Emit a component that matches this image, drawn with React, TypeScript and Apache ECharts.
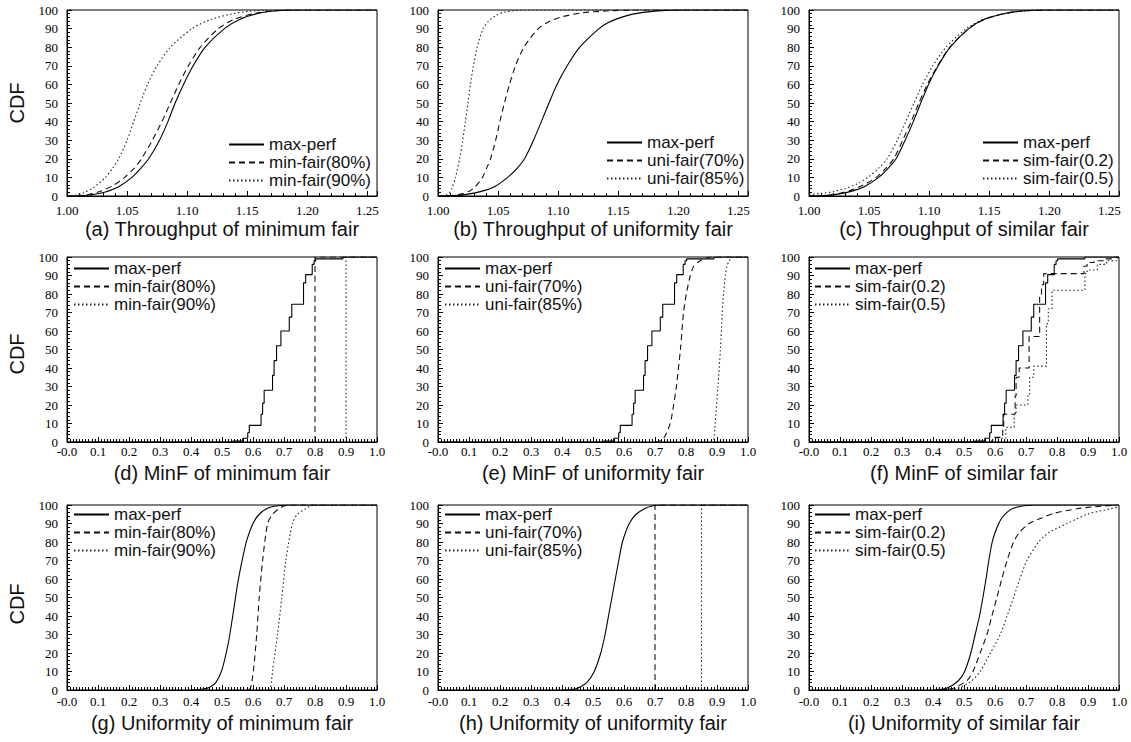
import React, { useEffect, useRef } from "react";
import * as echarts from "echarts";

// ---------- Data ----------
// Row 1: throughput CDFs
const TP_A_MAX = [[1.0,0],[1.012,0.1],[1.022,0.8],[1.032,2.2],[1.043,5],[1.054,10],[1.0615,15],[1.068,20],[1.077,30],[1.084,40],[1.09,50],[1.097,60],[1.105,70],[1.115,80],[1.131,90],[1.144,95],[1.158,98],[1.17,99.3],[1.19,100],[1.258,100]];
const TP_A_MIN80 = [[1.0,0],[1.008,0.1],[1.018,0.8],[1.028,2.5],[1.038,5.5],[1.048,10],[1.056,15],[1.062,20],[1.071,30],[1.079,40],[1.086,50],[1.093,60],[1.101,70],[1.111,80],[1.126,90],[1.139,95],[1.155,98],[1.168,99.3],[1.185,100],[1.258,100]];
const TP_A_MIN90 = [[1.0,0],[1.006,0.3],[1.014,1.8],[1.022,4.5],[1.032,10],[1.038,15],[1.043,20],[1.05,30],[1.0555,40],[1.061,50],[1.067,60],[1.075,70],[1.086,80],[1.104,90],[1.12,95],[1.138,98],[1.152,99.3],[1.17,100],[1.258,100]];

const TP_B_MAX = [[1.0,0],[1.014,0.2],[1.025,1],[1.036,2.5],[1.047,5],[1.058,10],[1.066,15],[1.072,20],[1.0795,30],[1.086,40],[1.0924,50],[1.099,60],[1.1075,70],[1.118,80],[1.134,90],[1.141,93],[1.15,95.5],[1.162,97.8],[1.175,99],[1.19,99.8],[1.205,100],[1.258,100]];
const TP_B_UNI70 = [[1.0,0],[1.01,0.2],[1.019,1],[1.026,2.5],[1.031,5],[1.037,10],[1.0405,15],[1.0437,20],[1.048,30],[1.0515,40],[1.0553,50],[1.0595,60],[1.0645,70],[1.0715,80],[1.0835,90],[1.093,94],[1.104,96.5],[1.12,98.5],[1.14,99.5],[1.165,100],[1.258,100]];
const TP_B_UNI85 = [[1.0,0],[1.006,0.3],[1.009,1.5],[1.0115,4],[1.0145,10],[1.018,20],[1.0206,30],[1.0228,40],[1.025,50],[1.027,60],[1.0295,70],[1.0326,80],[1.0375,90],[1.042,94],[1.048,97],[1.055,98.8],[1.063,99.6],[1.072,100],[1.258,100]];

const TP_C_MAX = [[1.0,0],[1.013,0.2],[1.024,1],[1.035,2.5],[1.046,5],[1.058,10],[1.066,15],[1.0725,20],[1.08,30],[1.0868,40],[1.093,50],[1.0995,60],[1.1075,70],[1.1175,80],[1.133,90],[1.146,95],[1.162,98],[1.175,99.3],[1.195,100],[1.258,100]];
const TP_C_SIM02 = [[1.0,0],[1.011,0.2],[1.022,1],[1.033,2.7],[1.044,5.5],[1.056,10],[1.064,15],[1.0705,20],[1.078,30],[1.085,40],[1.0915,50],[1.0985,60],[1.107,70],[1.1172,80],[1.133,90],[1.146,95],[1.162,98],[1.175,99.3],[1.195,100],[1.258,100]];
const TP_C_SIM05 = [[1.0,1],[1.01,1.4],[1.02,2.3],[1.03,4],[1.04,6.5],[1.05,10.5],[1.058,15],[1.065,20],[1.0735,30],[1.0805,40],[1.0874,50],[1.0945,60],[1.103,70],[1.114,80],[1.131,90],[1.145,95],[1.162,98],[1.175,99.3],[1.198,100],[1.258,100]];

// Row 2: MinF CDFs (step functions)
const MINF_MAX = [[0,0],[0.535,0.5],[0.567,2],[0.583,5],[0.588,9],[0.626,15],[0.631,21],[0.636,28],[0.663,36],[0.668,44],[0.676,52],[0.69,60],[0.717,67.5],[0.725,74.5],[0.763,86],[0.77,90.5],[0.791,96],[0.797,98],[0.802,99],[0.89,100],[1.0,100]];
const MINF_D_MIN80 = [[0.8,0],[0.8,100],[1.0,100]];
const MINF_D_MIN90 = [[0.9,0],[0.9,100],[1.0,100]];
const MINF_E_UNI70 = [[0.7,0],[0.712,0.3],[0.728,2],[0.749,10],[0.76,20],[0.769,30],[0.782,50],[0.792,70],[0.801,80],[0.814,90],[0.825,95],[0.846,98],[0.865,99.5],[0.88,100],[1.0,100]];
const MINF_E_UNI85 = [[0.88,0],[0.889,1],[0.894,10],[0.903,30],[0.911,50],[0.917,70],[0.921,80],[0.927,90],[0.932,95],[0.94,98],[0.948,99.5],[0.959,100],[1.0,100]];
const MINF_F_SIM02 = [[0,0],[0.59,1],[0.597,2.5],[0.625,8],[0.628,15],[0.665,25],[0.668,35],[0.678,40],[0.71,57],[0.744,79],[0.75,85],[0.757,91],[0.887,95],[0.897,97],[0.92,98],[0.95,99],[0.985,100],[1.0,100]];
const MINF_F_SIM05 = [[0,0],[0.61,2],[0.635,8],[0.662,15],[0.668,20],[0.706,26],[0.712,35],[0.725,41],[0.766,64],[0.772,72],[0.784,82],[0.89,91],[0.897,93],[0.93,96],[0.96,98],[0.995,100],[1.0,100]];

// Row 3: uniformity CDFs
const UNIF_G_MAX = [[0.4,0],[0.44,0.5],[0.46,1.5],[0.48,4],[0.5,11],[0.52,25],[0.53,35],[0.54,46],[0.55,57],[0.56,66],[0.57,74],[0.58,81],[0.6,90],[0.62,95],[0.65,98.5],[0.68,99.6],[0.72,100],[1.0,100]];
const UNIF_G_MIN80 = [[0.585,0],[0.592,1],[0.601,10],[0.612,30],[0.62,50],[0.631,70],[0.647,90],[0.663,95],[0.684,98],[0.7,99.5],[0.717,100],[1.0,100]];
const UNIF_G_MIN90 = [[0.65,0],[0.656,1],[0.663,10],[0.679,30],[0.693,50],[0.706,70],[0.727,90],[0.743,95],[0.77,98],[0.785,99.5],[0.802,100],[1.0,100]];
const UNIF_H_MAX = [[0.4,0],[0.43,0.3],[0.45,1],[0.48,4],[0.504,10],[0.525,20],[0.539,30],[0.55,40],[0.561,50],[0.572,60],[0.583,70],[0.595,80],[0.617,90],[0.639,95],[0.666,98],[0.69,99.5],[0.72,100],[1.0,100]];
const UNIF_H_UNI70 = [[0.7,0],[0.7,100],[1.0,100]];
const UNIF_H_UNI85 = [[0.85,0],[0.85,100],[1.0,100]];
const UNIF_I_MAX = [[0.4,0],[0.444,1],[0.482,5],[0.502,10],[0.522,20],[0.536,30],[0.55,40],[0.561,50],[0.571,60],[0.58,70],[0.591,80],[0.6,85],[0.612,90],[0.622,93],[0.635,95.5],[0.65,97.5],[0.67,98.8],[0.7,99.7],[0.73,100],[1.0,100]];
const UNIF_I_SIM02 = [[0.42,0],[0.466,1],[0.509,5],[0.529,10],[0.552,20],[0.574,30],[0.59,40],[0.606,50],[0.622,60],[0.639,70],[0.66,80],[0.678,85],[0.71,90],[0.75,93],[0.79,95.5],[0.865,98],[0.919,99],[0.995,100]];
const UNIF_I_SIM05 = [[0.43,0],[0.482,1],[0.525,5],[0.552,10],[0.585,20],[0.617,30],[0.639,40],[0.66,50],[0.68,60],[0.703,70],[0.741,80],[0.773,85],[0.833,90],[0.897,95],[0.973,98],[1.0,99]];

const TITLES = [
  "(a) Throughput of minimum fair", "(b) Throughput of uniformity fair", "(c) Throughput of similar fair",
  "(d) MinF of minimum fair", "(e) MinF of uniformity fair", "(f) MinF of similar fair",
  "(g) Uniformity of minimum fair", "(h) Uniformity of uniformity fair", "(i) Uniformity of similar fair",
];
const NAMES_MIN = ["max-perf", "min-fair(80%)", "min-fair(90%)"];
const NAMES_UNI = ["max-perf", "uni-fair(70%)", "uni-fair(85%)"];
const NAMES_SIM = ["max-perf", "sim-fair(0.2)", "sim-fair(0.5)"];

// ---------- Styles / layout ----------
const SERIF = '"Liberation Serif", "Times New Roman", serif';
const SANS = '"Liberation Sans", Arial, Helvetica, sans-serif';
const STYLE = [
  { color: "#000", width: 1.1, type: "solid" },
  { color: "#111", width: 1.1, type: [6, 4] },
  { color: "#222", width: 1.1, type: [1.5, 2.5] },
];
const COL_LEFT = [67, 438, 809];
const ROW_TOP = [10, 257, 505];
const ROW_H = [186, 185, 185];
const GRID_W = 310;
const TITLE_TOP = [219, 463, 713];
const LABEL_MARGIN = [8, 3, 5];
const CDF_Y = [103, 354, 604];
const LEGEND_POS = [
  { left: 228, top: 136 }, { left: 606, top: 134 }, { left: 982, top: 134 },
  { left: 73, top: 260 }, { left: 444, top: 260 }, { left: 814, top: 260 },
  { left: 73, top: 506 }, { left: 444, top: 506 }, { left: 814, top: 506 },
];

type Panel = { names: string[]; data: number[][][]; step?: boolean[] };
const PANELS: Panel[] = [
  { names: NAMES_MIN, data: [TP_A_MAX, TP_A_MIN80, TP_A_MIN90] },
  { names: NAMES_UNI, data: [TP_B_MAX, TP_B_UNI70, TP_B_UNI85] },
  { names: NAMES_SIM, data: [TP_C_MAX, TP_C_SIM02, TP_C_SIM05] },
  { names: NAMES_MIN, data: [MINF_MAX, MINF_D_MIN80, MINF_D_MIN90], step: [true, false, false] },
  { names: NAMES_UNI, data: [MINF_MAX, MINF_E_UNI70, MINF_E_UNI85], step: [true, false, false] },
  { names: NAMES_SIM, data: [MINF_MAX, MINF_F_SIM02, MINF_F_SIM05], step: [true, true, true] },
  { names: NAMES_MIN, data: [UNIF_G_MAX, UNIF_G_MIN80, UNIF_G_MIN90] },
  { names: NAMES_UNI, data: [UNIF_H_MAX, UNIF_H_UNI70, UNIF_H_UNI85] },
  { names: NAMES_SIM, data: [UNIF_I_MAX, UNIF_I_SIM02, UNIF_I_SIM05] },
];

function buildOption() {
  const grid: any[] = [];
  const xAxis: any[] = [];
  const yAxis: any[] = [];
  const series: any[] = [];
  const legend: any[] = [];
  const title: any[] = [];
  PANELS.forEach((p, i) => {
    const row = Math.floor(i / 3);
    const col = i % 3;
    const left = COL_LEFT[col];
    grid.push({
      left, top: ROW_TOP[row], width: GRID_W, height: ROW_H[row],
      show: true, borderColor: "#000", borderWidth: 1, backgroundColor: "transparent",
    });
    const isTp = row === 0;
    xAxis.push({
      type: "value", gridIndex: i,
      min: isTp ? 1.0 : 0, max: isTp ? 1.258 : 1.0, interval: isTp ? 0.05 : 0.1,
      axisLine: { show: true, onZero: false, lineStyle: { color: "#000", width: 1 } },
      axisTick: { show: true, inside: true, length: 5, lineStyle: { color: "#000", width: 1 } },
      minorTick: { show: true, splitNumber: isTp ? 5 : 10, length: 3, lineStyle: { color: "#000", width: 1 } },
      splitLine: { show: false },
      axisLabel: {
        fontFamily: SERIF, fontSize: 13, color: "#000", margin: LABEL_MARGIN[row],
        showMaxLabel: isTp ? false : true,
        formatter: (v: number) => (isTp ? v.toFixed(2) : Math.abs(v) < 1e-9 ? "-0.0" : v.toFixed(1)),
      },
    });
    yAxis.push({
      type: "value", gridIndex: i, min: 0, max: 100, interval: 10,
      axisLine: { show: true, onZero: false, lineStyle: { color: "#000", width: 1 } },
      axisTick: { show: true, inside: true, length: 5, lineStyle: { color: "#000", width: 1 } },
      minorTick: { show: true, splitNumber: 5, length: 3, lineStyle: { color: "#000", width: 1 } },
      splitLine: { show: false },
      axisLabel: { fontFamily: SERIF, fontSize: 13, color: "#000", margin: 9 },
    });
    p.names.forEach((name, k) => {
      const isStep = p.step ? p.step[k] : false;
      series.push({
        type: "line", name, xAxisIndex: i, yAxisIndex: i,
        data: p.data[k], symbol: "none", showSymbol: false,
        lineStyle: STYLE[k], itemStyle: { color: "rgba(0,0,0,0)", opacity: 0 },
        smooth: isStep ? false : 0.25,
        step: isStep ? "end" : false,
        silent: true, z: 5 - k,
      });
    });
    legend.push({
      orient: "vertical", left: LEGEND_POS[i].left, top: LEGEND_POS[i].top,
      padding: 0, itemWidth: 35, itemHeight: 14, itemGap: 1, selectedMode: false,
      itemStyle: { opacity: 0, color: "rgba(0,0,0,0)", borderWidth: 0 },
      textStyle: { fontFamily: SANS, fontSize: 17, color: "#111" },
      data: p.names,
    });
    title.push({
      text: TITLES[i], left: left + GRID_W / 2, top: TITLE_TOP[row], textAlign: "center", padding: 0,
      textStyle: { fontFamily: SANS, fontSize: 20, fontWeight: "normal", color: "#111" },
    });
  });
  const graphic = CDF_Y.map((y) => ({
    type: "text", x: 17, y, rotation: Math.PI / 2,
    style: { text: "CDF", font: `20px ${SANS}`, fill: "#111", align: "center", verticalAlign: "middle", textAlign: "center", textVerticalAlign: "middle" },
  }));
  return { animation: false, backgroundColor: "#fff", grid, xAxis, yAxis, series, legend, title, graphic };
}

export default function App() {
  const ref = useRef<HTMLDivElement>(null);
  useEffect(() => {
    if (!ref.current) return;
    const chart = echarts.init(ref.current, undefined, { renderer: "svg" });
    chart.setOption(buildOption() as any);
    return () => chart.dispose();
  }, []);
  return <div ref={ref} style={{ position: "absolute", left: 0, top: 0, width: 1131, height: 742, background: "#fff" }} />;
}
